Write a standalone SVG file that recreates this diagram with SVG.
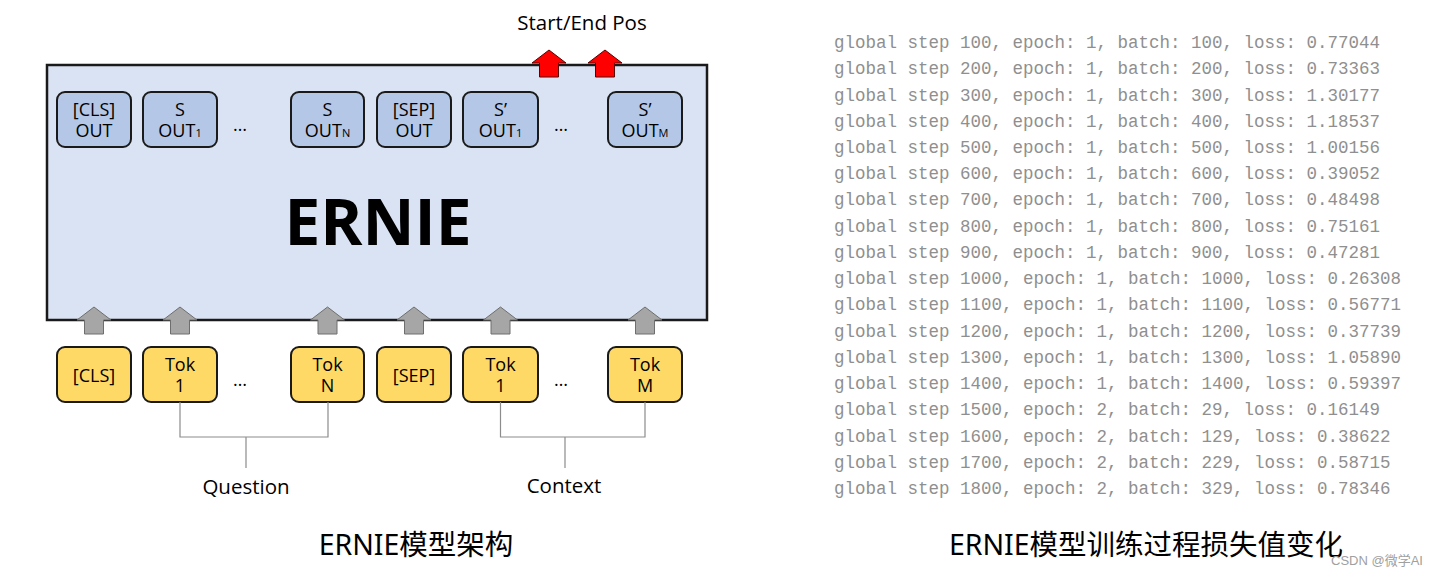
<svg xmlns="http://www.w3.org/2000/svg" width="1438" height="577" viewBox="0 0 1438 577">
<defs>
<style>
.lbl{font-family:"Open Sans","Noto Sans",sans-serif;font-size:18px;fill:#000;text-anchor:middle}
.sub{font-size:11px}
.cap{font-family:"Open Sans","Noto Sans",sans-serif;font-size:20.5px;fill:#000;text-anchor:middle}
.ttl{font-family:"Noto Sans","Noto Sans CJK SC",sans-serif;font-size:28.5px;fill:#000;text-anchor:middle}
.log{font-family:"Liberation Mono","DejaVu Sans Mono",monospace;font-size:17.5px;fill:#8f8f8f}
.out{fill:#b4c7e7;stroke:#1a1a1a;stroke-width:2}
.tok{fill:#ffd966;stroke:#1a1a1a;stroke-width:2}
.garr{fill:#a6a6a6;stroke:#6e6e6e;stroke-width:1}
.rarr{fill:#ff0000;stroke:#5a0000;stroke-width:1}
.conn{fill:none;stroke:#8c8c8c;stroke-width:1.2}
</style>
<path id="ga" d="M0,0 L17,13 L9.5,13 L9.5,27 L-9.5,27 L-9.5,13 L-17,13 Z"/>
</defs>
<rect width="1438" height="577" fill="#fff"/>

<g id="ernie">
<rect x="47" y="65" width="660" height="255" fill="#dae3f3" stroke="#1a1a1a" stroke-width="2.5"/>
<text x="378" y="245" font-family="'Open Sans','Noto Sans',sans-serif" font-size="64" font-weight="bold" text-anchor="middle" fill="#000">ERNIE</text>
</g>

<g id="out-cls"><rect class="out" x="57" y="92" width="74" height="55" rx="8"/><text class="lbl" x="94" y="116">[CLS]</text><text class="lbl" x="94" y="137">OUT</text></g>
<g id="out-s1"><rect class="out" x="143" y="92" width="74" height="55" rx="8"/><text class="lbl" x="180" y="116">S</text><text class="lbl" x="180" y="137">OUT<tspan class="sub">1</tspan></text></g>
<g id="out-dots1"><text class="lbl" x="240" y="131">…</text></g>
<g id="out-sn"><rect class="out" x="291" y="92" width="73" height="55" rx="8"/><text class="lbl" x="327.5" y="116">S</text><text class="lbl" x="327.5" y="137">OUT<tspan class="sub">N</tspan></text></g>
<g id="out-sep"><rect class="out" x="377" y="92" width="74" height="55" rx="8"/><text class="lbl" x="414" y="116">[SEP]</text><text class="lbl" x="414" y="137">OUT</text></g>
<g id="out-s1p"><rect class="out" x="463" y="92" width="75" height="55" rx="8"/><text class="lbl" x="500.5" y="116">S’</text><text class="lbl" x="500.5" y="137">OUT<tspan class="sub">1</tspan></text></g>
<g id="out-dots2"><text class="lbl" x="561" y="131">…</text></g>
<g id="out-smp"><rect class="out" x="608" y="92" width="74" height="55" rx="8"/><text class="lbl" x="645" y="116">S’</text><text class="lbl" x="645" y="137">OUT<tspan class="sub">M</tspan></text></g>

<g id="tok-cls"><rect class="tok" x="57" y="347" width="74" height="55" rx="8"/><text class="lbl" x="94" y="382">[CLS]</text></g>
<g id="tok-1"><rect class="tok" x="143" y="347" width="74" height="55" rx="8"/><text class="lbl" x="180" y="371">Tok</text><text class="lbl" x="180" y="392">1</text></g>
<g id="tok-dots1"><text class="lbl" x="240" y="386">…</text></g>
<g id="tok-n"><rect class="tok" x="291" y="347" width="73" height="55" rx="8"/><text class="lbl" x="327.5" y="371">Tok</text><text class="lbl" x="327.5" y="392">N</text></g>
<g id="tok-sep"><rect class="tok" x="377" y="347" width="74" height="55" rx="8"/><text class="lbl" x="414" y="382">[SEP]</text></g>
<g id="tok-1p"><rect class="tok" x="463" y="347" width="75" height="55" rx="8"/><text class="lbl" x="500.5" y="371">Tok</text><text class="lbl" x="500.5" y="392">1</text></g>
<g id="tok-dots2"><text class="lbl" x="561" y="386">…</text></g>
<g id="tok-m"><rect class="tok" x="608" y="347" width="74" height="55" rx="8"/><text class="lbl" x="645" y="371">Tok</text><text class="lbl" x="645" y="392">M</text></g>

<g id="connectors">
<use href="#ga" class="garr" x="94" y="307"/>
<use href="#ga" class="garr" x="180" y="307"/>
<use href="#ga" class="garr" x="327.5" y="307"/>
<use href="#ga" class="garr" x="414" y="307"/>
<use href="#ga" class="garr" x="500.5" y="307"/>
<use href="#ga" class="garr" x="645" y="307"/>
<use href="#ga" class="rarr" x="549" y="50"/>
<use href="#ga" class="rarr" x="605" y="50"/>
<path class="conn" d="M180,402 V437 H328 V402 M246,437 V468"/>
<path class="conn" d="M500.5,402 V437 H645 V402 M565,437 V468"/>
</g>

<g id="labels">
<text class="cap" x="582" y="30">Start/End Pos</text>
<text class="cap" x="246" y="494">Question</text>
<text class="cap" x="564" y="493">Context</text>
</g>

<g id="log">
<text class="log" x="834" y="48">global step 100, epoch: 1, batch: 100, loss: 0.77044</text>
<text class="log" x="834" y="74.2">global step 200, epoch: 1, batch: 200, loss: 0.73363</text>
<text class="log" x="834" y="100.5">global step 300, epoch: 1, batch: 300, loss: 1.30177</text>
<text class="log" x="834" y="126.7">global step 400, epoch: 1, batch: 400, loss: 1.18537</text>
<text class="log" x="834" y="153">global step 500, epoch: 1, batch: 500, loss: 1.00156</text>
<text class="log" x="834" y="179.2">global step 600, epoch: 1, batch: 600, loss: 0.39052</text>
<text class="log" x="834" y="205.4">global step 700, epoch: 1, batch: 700, loss: 0.48498</text>
<text class="log" x="834" y="231.7">global step 800, epoch: 1, batch: 800, loss: 0.75161</text>
<text class="log" x="834" y="257.9">global step 900, epoch: 1, batch: 900, loss: 0.47281</text>
<text class="log" x="834" y="284.2">global step 1000, epoch: 1, batch: 1000, loss: 0.26308</text>
<text class="log" x="834" y="310.4">global step 1100, epoch: 1, batch: 1100, loss: 0.56771</text>
<text class="log" x="834" y="336.6">global step 1200, epoch: 1, batch: 1200, loss: 0.37739</text>
<text class="log" x="834" y="362.9">global step 1300, epoch: 1, batch: 1300, loss: 1.05890</text>
<text class="log" x="834" y="389.1">global step 1400, epoch: 1, batch: 1400, loss: 0.59397</text>
<text class="log" x="834" y="415.4">global step 1500, epoch: 2, batch: 29, loss: 0.16149</text>
<text class="log" x="834" y="441.6">global step 1600, epoch: 2, batch: 129, loss: 0.38622</text>
<text class="log" x="834" y="467.8">global step 1700, epoch: 2, batch: 229, loss: 0.58715</text>
<text class="log" x="834" y="494">global step 1800, epoch: 2, batch: 329, loss: 0.78346</text>
</g>

<g id="captions">
<text class="ttl" x="416" y="555">ERNIE模型架构</text>
<text class="ttl" x="1146" y="555">ERNIE模型训练过程损失值变化</text>
<text x="1377" y="565" font-family="'Liberation Sans','Noto Sans CJK SC',sans-serif" font-size="13" fill="#a0a0a0" text-anchor="middle">CSDN @微学AI</text>
</g>
</svg>
